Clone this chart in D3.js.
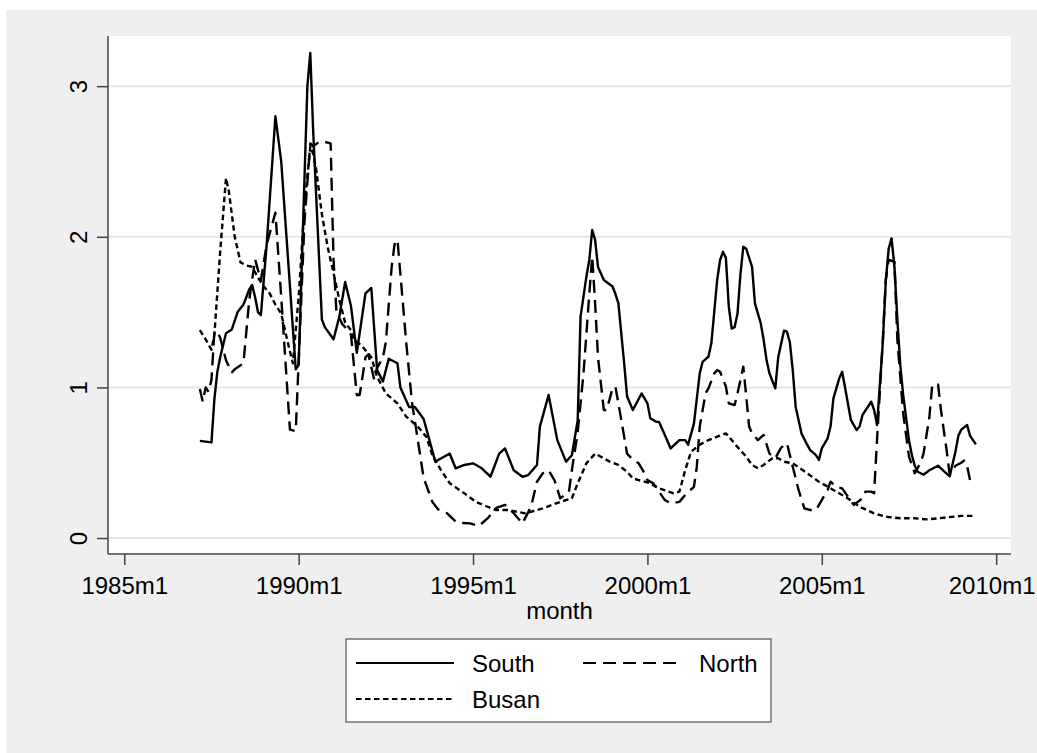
<!DOCTYPE html>
<html>
<head>
<meta charset="utf-8">
<script src="https://cdn.jsdelivr.net/npm/d3@7"></script>
<style>
  html, body { margin: 0; padding: 0; background: #ffffff; }
  svg { display: block; font-family: "Liberation Sans", Arial, sans-serif; }
</style>
</head>
<body>
<svg id="chart" width="1037" height="753"></svg>
<script>
// Months are counted from 1985m1 (0 = 1985m1, 12 = 1986m1, ...).
const xTickMonths = [0, 60, 120, 180, 240, 300];
const xTickLabels = ["1985m1", "1990m1", "1995m1", "2000m1", "2005m1", "2010m1"];
const yTicks = [0, 1, 2, 3];
const yTickLabels = ["0", "1", "2", "3"];
const seriesNames = ["South", "North", "Busan"];

const southMonths = [26,28,30,31,32,33,35,37,39,41,43,44,45,46,47,49,52,54,59,60,63,64,65,68,69,72,74,76,78,80,83,85,87,89,91,92,94,95,98,100,103,105,107,110,112,114,117,120,123,126,129,131,134,137,139,142,143,146,149,152,154,156,157,159,160,161,162,163,165,168,169,170,172,173,175,178,180,181,183,184,186,188,191,193,194,196,198,199,201,202,204,205,206,207,208,209,210,211,212,213,214,216,217,219,220,221,222,224,225,227,228,229,230,231,233,235,236,238,239,240,242,243,244,246,247,248,250,252,253,254,257,258,259,261,262,263,264,265,266,267,268,269,270,271,272,273,275,277,280,282,284,286,287,288,290,291,293];
const southValues = [0.645,0.64,0.635,0.92,1.10,1.20,1.36,1.385,1.50,1.55,1.65,1.68,1.60,1.50,1.48,1.95,2.80,2.50,1.12,1.15,3.00,3.22,2.70,1.45,1.40,1.32,1.47,1.70,1.54,1.23,1.625,1.66,1.115,1.04,1.19,1.18,1.16,1.00,0.87,0.87,0.79,0.65,0.507,0.54,0.56,0.463,0.485,0.496,0.463,0.407,0.56,0.595,0.45,0.407,0.418,0.485,0.74,0.95,0.65,0.507,0.55,0.78,1.47,1.735,1.846,2.045,1.98,1.80,1.713,1.67,1.62,1.56,1.16,0.94,0.85,0.96,0.894,0.795,0.772,0.77,0.684,0.595,0.65,0.65,0.62,0.76,1.093,1.17,1.204,1.293,1.713,1.846,1.90,1.86,1.536,1.39,1.40,1.49,1.75,1.934,1.92,1.80,1.558,1.425,1.315,1.18,1.093,0.994,1.20,1.377,1.37,1.30,1.115,0.872,0.695,0.618,0.584,0.551,0.518,0.595,0.662,0.74,0.927,1.06,1.104,1.00,0.784,0.717,0.74,0.817,0.905,0.85,0.75,1.30,1.70,1.92,1.99,1.80,1.45,1.15,0.95,0.80,0.65,0.55,0.48,0.44,0.42,0.45,0.48,0.444,0.41,0.575,0.68,0.72,0.75,0.68,0.622];

const northMonths = [26,27,28,29,30,31,32,33,35,37,38,41,43,45,46,47,49,52,54,57,59,62,64,65,67,69,71,72,73,75,76,78,80,81,83,84,86,87,89,90,92,93,94,97,99,101,103,106,108,111,114,116,119,122,125,128,131,134,137,140,142,144,146,148,150,153,154,156,158,160,161,162,163,165,166,168,169,171,173,175,177,179,180,182,184,186,188,191,193,196,197,198,200,201,203,204,205,207,208,210,211,213,214,215,216,218,220,222,224,226,228,230,232,234,236,238,240,242,243,245,247,249,251,254,255,257,258,259,261,262,263,265,266,268,270,272,274,275,277,278,280,281,283,284,286,288,289,290,291,293];
const northValues = [0.99,0.905,1.00,0.97,1.05,1.37,1.37,1.33,1.18,1.10,1.12,1.16,1.58,1.85,1.78,1.71,1.95,2.16,1.60,0.72,0.71,2.10,2.62,2.60,2.63,2.63,2.62,1.85,1.50,1.42,1.40,1.35,0.95,0.95,1.20,1.22,1.05,1.13,1.20,1.30,1.80,1.95,1.98,1.30,0.90,0.65,0.40,0.24,0.19,0.165,0.11,0.10,0.097,0.08,0.13,0.20,0.22,0.165,0.097,0.21,0.374,0.43,0.45,0.385,0.263,0.308,0.45,0.70,1.09,1.62,1.87,1.56,1.20,0.85,0.85,0.994,1.005,0.784,0.56,0.52,0.496,0.43,0.385,0.363,0.308,0.252,0.23,0.24,0.286,0.34,0.474,0.74,0.96,0.994,1.093,1.115,1.104,1.005,0.894,0.883,0.96,1.138,0.94,0.74,0.695,0.65,0.684,0.56,0.53,0.60,0.63,0.474,0.319,0.197,0.186,0.186,0.252,0.319,0.374,0.34,0.33,0.275,0.22,0.263,0.308,0.308,0.297,0.65,1.315,1.713,1.846,1.835,1.315,0.828,0.54,0.43,0.50,0.56,0.80,1.016,1.02,0.85,0.575,0.42,0.48,0.50,0.515,0.48,0.385,0.385];

const busanMonths = [26,28,30,31,33,35,36,38,40,42,44,46,48,50,52,54,56,58,60,62,64,65,66,68,70,72,74,76,78,79,82,85,87,90,94,97,101,104,106,109,112,117,121,126,128,132,138,144,150,154,156,159,162,164,167,170,173,175,177,181,184,189,191,193,195,198,201,204,207,208,211,214,216,218,220,223,225,227,230,235,239,244,249,253,258,262,267,272,276,280,282,288,293];
const busanValues = [1.38,1.32,1.25,1.35,1.90,2.39,2.30,2.00,1.83,1.81,1.80,1.73,1.67,1.625,1.55,1.49,1.32,1.16,1.60,2.20,2.60,2.55,2.45,2.15,1.93,1.76,1.58,1.43,1.38,1.32,1.27,1.20,1.07,0.96,0.894,0.806,0.74,0.67,0.55,0.45,0.363,0.297,0.24,0.20,0.186,0.186,0.164,0.197,0.24,0.263,0.363,0.496,0.56,0.54,0.507,0.485,0.44,0.396,0.385,0.363,0.33,0.297,0.308,0.45,0.573,0.62,0.65,0.673,0.695,0.673,0.604,0.54,0.485,0.463,0.485,0.53,0.53,0.507,0.496,0.43,0.374,0.319,0.263,0.208,0.164,0.142,0.131,0.131,0.124,0.131,0.135,0.147,0.147];

const W = 1037, H = 753;
const plot = { left: 108, right: 1011, top: 36, bottom: 554 };
const fontSize = 24;

const svg = d3.select("#chart");

// Outer graph region (light gray) and the white plot region
svg.append("rect").attr("x", 6).attr("y", 10).attr("width", W - 6).attr("height", H - 10)
  .attr("fill", "#efefef");
svg.append("rect").attr("x", plot.left).attr("y", plot.top)
  .attr("width", plot.right - plot.left).attr("height", plot.bottom - plot.top)
  .attr("fill", "#ffffff");

const x = d3.scaleLinear().domain([-5.6, 305.1]).range([plot.left, plot.right]);
const y = d3.scaleLinear().domain([-0.106, 3.333]).range([plot.bottom, plot.top]);

// Horizontal grid lines
svg.append("g").selectAll("line").data(yTicks).join("line")
  .attr("x1", plot.left).attr("x2", plot.right)
  .attr("y1", d => y(d)).attr("y2", d => y(d))
  .attr("stroke", "#e6e6e6").attr("stroke-width", 2);

// Y axis
const yAxis = d3.axisLeft(y).tickValues(yTicks).tickSize(11).tickPadding(0)
  .tickFormat((d, i) => yTickLabels[i]);
const gy = svg.append("g").attr("transform", `translate(${plot.left},0)`).call(yAxis);
gy.select(".domain").attr("stroke", "#444").attr("stroke-width", 1.5)
  .attr("d", `M0,${plot.top}V${plot.bottom}`);
gy.selectAll(".tick line").attr("stroke", "#444").attr("stroke-width", 1.5);
gy.selectAll(".tick text")
  .attr("x", null).attr("dy", null)
  .attr("transform", "translate(-21,0) rotate(-90)")
  .attr("text-anchor", "middle")
  .attr("font-size", fontSize).attr("font-family", "Liberation Sans, Arial, sans-serif")
  .attr("fill", "#000");

// X axis
const xAxis = d3.axisBottom(x).tickValues(xTickMonths).tickSize(11).tickPadding(0)
  .tickFormat((d, i) => xTickLabels[i]);
const gx = svg.append("g").attr("transform", `translate(0,${plot.bottom})`).call(xAxis);
gx.select(".domain").attr("stroke", "#444").attr("stroke-width", 1.5)
  .attr("d", `M${plot.left},0H${plot.right}`);
gx.selectAll(".tick line").attr("stroke", "#444").attr("stroke-width", 1.5);
gx.selectAll(".tick text")
  .attr("y", 40).attr("dy", null)
  .attr("font-size", fontSize).attr("font-family", "Liberation Sans, Arial, sans-serif")
  .attr("fill", "#000");
// Keep the last month label inside the graph's right edge
gx.selectAll(".tick text")
  .filter((d, i, nodes) => i === nodes.length - 1)
  .attr("text-anchor", "end")
  .attr("x", function(d) { return (W - 2) - x(d); });

// X axis title
svg.append("text").attr("x", (plot.left + plot.right) / 2).attr("y", 619)
  .attr("text-anchor", "middle").attr("font-size", fontSize).attr("fill", "#000")
  .text("month");

// Series lines
const styles = [
  { months: southMonths, values: southValues, dash: null },
  { months: northMonths, values: northValues, dash: "13,7" },
  { months: busanMonths, values: busanValues, dash: "5.5,3.5" }
];
const line = d3.line().x(d => x(d[0])).y(d => y(d[1]));
const gLines = svg.append("g");
styles.forEach(s => {
  const pts = s.months.map((m, i) => [m, s.values[i]]);
  gLines.append("path").datum(pts)
    .attr("d", line)
    .attr("fill", "none").attr("stroke", "#000").attr("stroke-width", 2.4)
    .attr("stroke-linejoin", "round")
    .attr("stroke-dasharray", s.dash);
});

// Legend
const legend = svg.append("g");
legend.append("rect").attr("x", 346).attr("y", 639).attr("width", 425).attr("height", 83)
  .attr("fill", "#ffffff").attr("stroke", "#333").attr("stroke-width", 1);
const legendPos = [
  { x: 356, y: 663 },
  { x: 583, y: 663 },
  { x: 356, y: 699 }
];
styles.forEach((s, i) => {
  const p = legendPos[i];
  legend.append("line").attr("x1", p.x).attr("x2", p.x + 98)
    .attr("y1", p.y).attr("y2", p.y)
    .attr("stroke", "#000").attr("stroke-width", 2)
    .attr("stroke-dasharray", s.dash);
  legend.append("text").attr("x", p.x + 116).attr("y", p.y + 9)
    .attr("font-size", fontSize).attr("fill", "#000")
    .text(seriesNames[i]);
});
</script>
</body>
</html>
